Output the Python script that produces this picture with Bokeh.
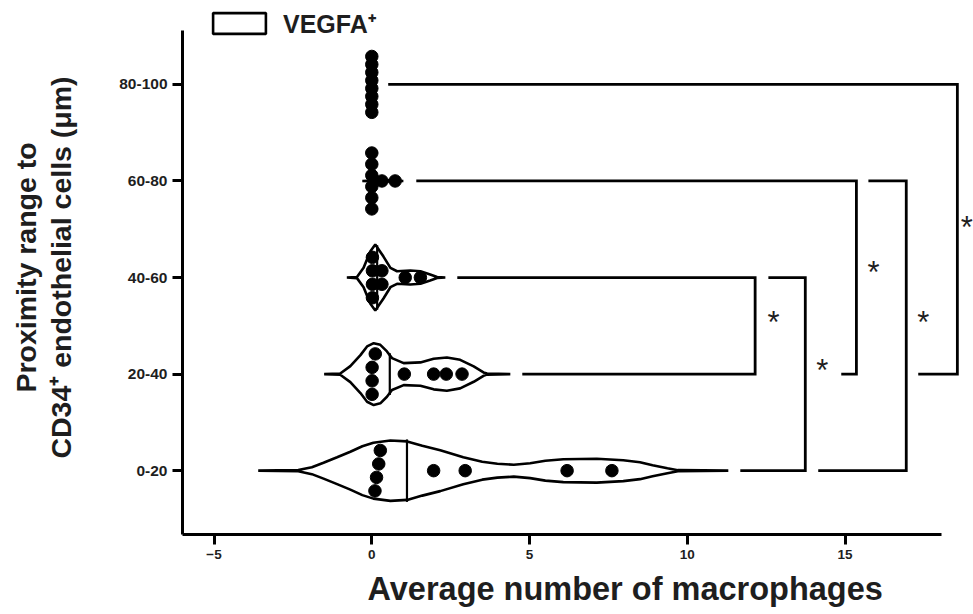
import numpy as np
from bokeh.plotting import figure
from bokeh.models import Range1d, FixedTicker, Title, Legend, LegendItem
from bokeh.core.properties import value
from bokeh.embed import file_html
from bokeh.resources import INLINE

# ---------------- data ----------------
categories = ["0-20", "20-40", "40-60", "60-80", "80-100"]
x_ticks = [-5, 0, 5, 10, 15]

# macrophage counts per proximity range (dots)
vals_0_20 = [0.10, 0.15, 0.22, 0.27, 1.96, 2.96, 6.19, 7.61]
vals_20_40 = [0.01, 0.01, 0.01, 0.11, 1.03, 1.96, 2.36, 2.86]
vals_40_60 = [0.02, 0.02, 0.02, 0.02, 0.32, 0.32, 1.06, 1.54]
vals_60_80 = [0.0, 0.0, 0.0, 0.0, 0.0, 0.0, 0.32, 0.74]
vals_80_100 = [0.0, 0.0, 0.0, 0.0, 0.0, 0.0, 0.0, 0.0]

# violin outlines: x positions and half-widths (density, in px)
vio_x_0_20 = [-3.6, -2.33, -1.9, -1.53, -1.1, -0.68, -0.3, 0.05, 0.59, 1.12, 1.6, 2.17, 2.9,
              3.5, 3.98, 4.5, 5.02, 5.5, 6.07, 7.13, 7.97, 8.5, 8.9, 9.37, 9.7, 11.3]
vio_w_0_20 = [0, 0.6, 3.5, 8, 13.5, 19, 24.5, 28, 30.3, 29.3, 25, 20.5, 13.5,
              9, 7, 6, 7.5, 10, 11.5, 12, 10.5, 8.5, 5.5, 2.5, 0.5, 0]
vio_x_20_40 = [-1.51, -1.0, -0.68, -0.36, -0.15, 0.06, 0.27, 0.48, 0.64, 1.01, 1.54, 1.96,
               2.38, 2.8, 3.23, 3.54, 3.65, 4.39]
vio_w_20_40 = [0, 0.6, 8, 19, 27.7, 31, 29.3, 22.7, 16, 11, 11.7, 15.3,
               16.7, 14.3, 7.7, 1.7, 0.5, 0]
vio_x_40_60 = [-0.79, -0.47, -0.26, -0.05, 0.11, 0.37, 0.59, 0.8, 1.22, 1.54, 1.85, 2.07, 2.33]
vio_w_40_60 = [0, 0.6, 9.7, 26, 33, 21, 9.7, 6.3, 7, 6.3, 3, 0.5, 0]
vio_x_60_80 = [-0.3, 0.35, 1.0]
vio_w_60_80 = [0, 0.8, 0]
vio_x_80_100 = [-0.1, 0.1]
vio_w_80_100 = [0, 0]

# significance brackets
br_top_row = [4, 3, 3, 2, 2]
br_bot_row = [1, 1, 0, 1, 0]
br_top_start = [0.52, 1.41, 15.74, 2.71, 12.57]
br_bot_start = [17.32, 14.88, 14.15, 4.77, 11.68]
br_right = [18.56, 15.36, 16.94, 12.15, 13.74]
star_x = [18.86, 15.9, 17.48, 12.73, 14.28]
star_y = [2.52, 2.05, 1.53, 1.53, 1.04]
star_text = ["*", "*", "*", "*", "*"]

all_vals = [vals_0_20, vals_20_40, vals_40_60, vals_60_80, vals_80_100]
all_vx = [vio_x_0_20, vio_x_20_40, vio_x_40_60, vio_x_60_80, vio_x_80_100]
all_vw = [vio_w_0_20, vio_w_20_40, vio_w_40_60, vio_w_60_80, vio_w_80_100]

# ---------------- figure ----------------
W, H = 973, 614
ML, MB = 182, 79
x0, px_per_x = -6.0, 31.55
y0, px_per_y = -0.661, 96.75
frame_w, frame_h = W - ML, H - MB
x_range = Range1d(x0, x0 + frame_w / px_per_x)
y_range = Range1d(y0, y0 + frame_h / px_per_y)

FONT = "Liberation Sans"
TXT = "#1e1e1e"

p = figure(width=W, height=H, x_range=x_range, y_range=y_range,
           output_backend="svg", toolbar_location=None,
           min_border_left=ML, min_border_right=0, min_border_top=0, min_border_bottom=MB)
p.title.visible = False
p.outline_line_color = None
p.xgrid.visible = False
p.ygrid.visible = False

def py(px):
    return px / px_per_y

# violins
vio_renderers = []
for k, (vx, vw) in enumerate(zip(all_vx, all_vw)):
    vx = np.array(vx, float)
    vw = np.array(vw, float)
    xs = np.concatenate([vx, vx[::-1]])
    ys = np.concatenate([k + py(vw), (k - py(vw))[::-1]])
    r = p.patch(xs, ys, fill_color="white", line_color="black", line_width=2.6)
    vio_renderers.append(r)

# median lines
for k, (vals, vx, vw) in enumerate(zip(all_vals, all_vx, all_vw)):
    med = float(np.median(vals))
    hw = float(np.interp(med, vx, vw))
    if hw > 2:
        p.segment(x0=[med], y0=[k - py(hw + 2)], x1=[med], y1=[k + py(hw + 2)],
                  line_color="black", line_width=2.2)

# dots (simple vertical swarm)
def swarm(vals, tol=0.12, step=13.5, max_span=56.0):
    v = np.sort(np.array(vals, float))
    groups, cur = [], [v[0]]
    for a in v[1:]:
        if a - cur[-1] <= tol:
            cur.append(a)
        else:
            groups.append(cur)
            cur = [a]
    groups.append(cur)
    xs, offs = [], []
    for g in groups:
        n = len(g)
        sp = min(step, max_span / (n - 1)) if n > 1 else 0
        for i, a in enumerate(g):
            xs.append(a)
            offs.append((i - (n - 1) / 2) * sp)
    return np.array(xs), np.array(offs)

for k, vals in enumerate(all_vals):
    xs, offs = swarm(vals)
    p.scatter(xs, k + py(offs), size=12.5, fill_color="black", line_color="black")

# brackets
bx, by = [], []
for t, b, ts, bs, r in zip(br_top_row, br_bot_row, br_top_start, br_bot_start, br_right):
    bx.append([ts, r, r, bs])
    by.append([t, t, b, b])
p.multi_line(bx, by, line_color="black", line_width=2.8, line_join="miter")
p.text(x=star_x, y=star_y, text=star_text, text_font=value(FONT), text_font_size="31px",
       text_align="center", text_baseline="middle", text_color=TXT)

# axes
xa = p.xaxis[0]
xa.ticker = FixedTicker(ticks=x_ticks)
xa.major_label_overrides = {-5: "\u22125"}
xa.bounds = (-6.0, 18.07)
ya = p.yaxis[0]
ya.ticker = FixedTicker(ticks=list(range(len(categories))))
ya.major_label_overrides = {i: c for i, c in enumerate(categories)}
ya.bounds = (y0, 4.558)
for ax in (xa, ya):
    ax.axis_line_width = 3
    ax.axis_line_color = "black"
    ax.major_tick_line_width = 3
    ax.major_tick_line_color = "black"
    ax.major_tick_in = 0
    ax.major_tick_out = 10
    ax.minor_tick_line_color = None
    ax.major_label_text_font = FONT
    ax.major_label_text_font_style = "bold"
    ax.major_label_text_color = TXT
xa.major_label_text_font_size = "13.5px"
ya.major_label_text_font_size = "15.5px"
ya.major_label_standoff = 5

ya.axis_label = "CD34\u207a endothelial cells (\u03bcm)"
ya.axis_label_text_font = FONT
ya.axis_label_text_font_style = "bold"
ya.axis_label_text_font_size = "28.5px"
ya.axis_label_text_color = TXT
ya.axis_label_standoff = 39

t1 = Title(text="Proximity range to", align="center", offset=12,
           text_font=FONT, text_font_style="bold", text_font_size="28.5px",
           text_color=TXT)
if "standoff" in Title.properties():
    t1.standoff = 2
p.add_layout(t1, "left")

tx = Title(text="Average number of macrophages", align="left", offset=185,
           text_font=FONT, text_font_style="bold", text_font_size="32.5px",
           text_color=TXT)
if "standoff" in Title.properties():
    tx.standoff = 15
p.add_layout(tx, "below")

legend = Legend(items=[LegendItem(label="VEGFA\u207a", renderers=[vio_renderers[0]])],
                location=(24, 494), glyph_width=66, glyph_height=26, label_standoff=11,
                label_text_font=FONT, label_text_font_style="bold", label_text_font_size="25px",
                label_text_color=TXT, padding=0, margin=0, spacing=0,
                border_line_color=None, background_fill_alpha=0)
p.add_layout(legend, "center")

open("out.html", "w").write(file_html(p, INLINE))
